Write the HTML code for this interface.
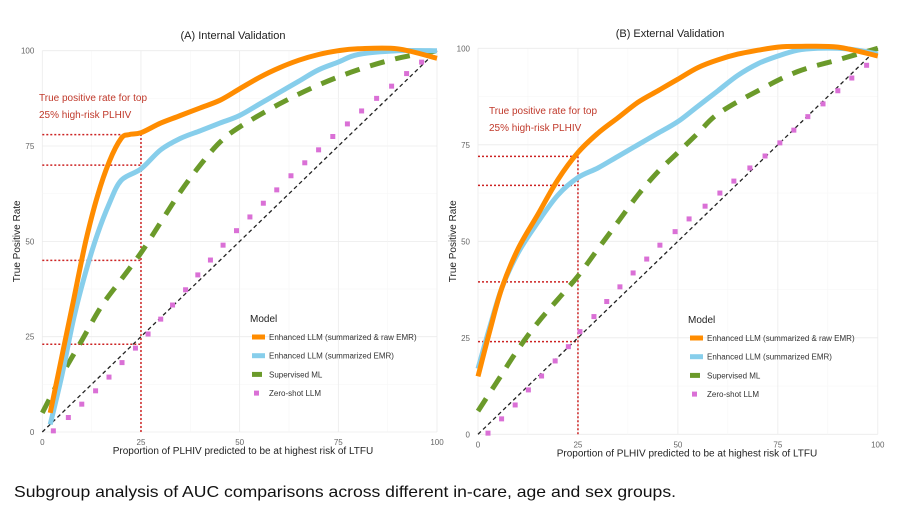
<!DOCTYPE html>
<html><head><meta charset="utf-8"><style>
html,body{margin:0;padding:0;background:#fff;}
svg{display:block;font-family:"Liberation Sans",sans-serif;}
</style></head><body>
<svg id="chart" width="900" height="506" viewBox="0 0 900 506" xmlns="http://www.w3.org/2000/svg">
<text x="14" y="497" font-size="16" fill="#111" textLength="662" lengthAdjust="spacingAndGlyphs">Subgroup analysis of AUC comparisons across different in-care, age and sex groups.</text>
</svg>
<script>
// ---- Panel A data (Internal Validation) ----
const A_orangeX=[2,5,8,11,14,17,20,22,25,30,35,40,45,50,55,60,65,70,75,80,90,100];
const A_orangeY=[5,20,35,50,62,71,77,78,78.5,81,83,85,87,90,93,95.5,97.5,99,100,100.5,100.5,98];
const A_blueX=[2,5,8,11,14,17,20,25,30,35,40,45,50,55,60,65,70,75,80,90,100];
const A_blueY=[2,15,30,42,52,60,66,69,74,77,79,81,83,86,89,92,95,97,99,100,100];
const A_greenX=[0,5,10,15,20,25,30,35,40,45,50,60,70,80,90,100];
const A_greenY=[5,15,24,33,40,47,55,63,70,76,80,86,91,95,98,100];
const A_pinkX=[2.8,6.6,10,13.5,16.9,20.2,23.6,26.8,30,33,36.3,39.4,42.6,45.8,49.2,52.6,56,59.4,63,66.5,70,73.6,77.3,80.9,84.7,88.5,92.3,96.1];
const A_pinkY=[0.3,3.8,7.3,10.8,14.4,18.2,22,25.7,29.6,33.3,37.3,41.2,45.1,49,52.8,56.4,60,63.5,67.2,70.6,74,77.5,80.8,84.2,87.5,90.7,94,97];
const A_refY=[78,70,45,23];
// ---- Panel B data (External Validation) ----
const B_orangeX=[0,3,6,10,15,20,25,30,35,40,45,50,55,60,65,70,75,80,90,100];
const B_orangeY=[15,27,38,48,57,66,73,78,82,86,89,92,95,97,98.5,99.5,100.3,100.5,100.3,98];
const B_blueX=[0,3,6,10,15,20,25,30,35,40,45,50,55,60,65,70,75,80,85,90,95,100];
const B_blueY=[17,28,38,47,55,62,66.5,69,72,75,78,81,85,89,93,96,98,99.5,100,100,99.5,98.5];
const B_greenX=[0,5,10,15,20,25,30,35,40,45,50,55,60,70,80,90,100];
const B_greenY=[6,14,22,29,35,41,48,55,62,68,73,78,83,89,94,97,100];
const B_pinkX=[2.5,5.9,9.3,12.6,15.9,19.3,22.6,25.5,29,32.2,35.5,38.8,42.2,45.5,49.3,52.8,56.8,60.5,64,68,71.8,75.5,79,82.5,86.3,90,93.5,97.2];
const B_pinkY=[0.3,4,7.6,11.5,15.1,19,22.7,26.6,30.5,34.4,38.2,41.8,45.4,49,52.5,55.8,59.1,62.5,65.6,69,72.1,75.5,78.8,82.3,85.6,89,92.3,95.6];
const B_refY=[72,64.5,39.5,24];
const tickVals=[0,25,50,75,100];
const legendLabels=["Enhanced LLM (summarized & raw EMR)","Enhanced LLM (summarized EMR)","Supervised ML","Zero-shot LLM"];

const NS="http://www.w3.org/2000/svg";
const svg=document.getElementById('chart');
function mk(tag,attrs,parent){const e=document.createElementNS(NS,tag);for(const k in attrs)e.setAttribute(k,attrs[k]);(parent||svg).appendChild(e);return e;}

function smooth(pts){
  let d='M'+pts[0][0].toFixed(1)+','+pts[0][1].toFixed(1);
  for(let i=0;i<pts.length-1;i++){
    const p0=pts[Math.max(0,i-1)],p1=pts[i],p2=pts[i+1],p3=pts[Math.min(pts.length-1,i+2)];
    const c1x=p1[0]+(p2[0]-p0[0])/6,c1y=p1[1]+(p2[1]-p0[1])/6;
    const c2x=p2[0]-(p3[0]-p1[0])/6,c2y=p2[1]-(p3[1]-p1[1])/6;
    d+=`C${c1x.toFixed(1)},${c1y.toFixed(1)} ${c2x.toFixed(1)},${c2y.toFixed(1)} ${p2[0].toFixed(1)},${p2[1].toFixed(1)}`;
  }
  return d;
}

function panel(cfg){
  const g=mk('g',{});
  
  
  const X=v=>cfg.x0+v*cfg.sx, Y=v=>cfg.y0-v*cfg.sy;
  for(let v=0;v<=100;v+=12.5){
    const maj=v%25===0;
    const gl=mk('line',{x1:X(0),x2:X(100),y1:Y(v),y2:Y(v),stroke:maj?'#ebebeb':'#f5f5f5','stroke-width':maj?0.8:0.5},g);
    
    
    const gv=mk('line',{x1:X(v),x2:X(v),y1:Y(0),y2:Y(100),stroke:maj?'#ebebeb':'#f5f5f5','stroke-width':maj?0.8:0.5},g);
    
    
  }
  tickVals.forEach(v=>{
    const t=mk('text',{x:X(0)-8,y:Y(v)+3,'font-size':8,fill:'#666','text-anchor':'end'},g);t.textContent=v;
    
    
    const t2=mk('text',{x:X(v),y:Y(0)+13,'font-size':8,fill:'#666','text-anchor':'middle'},g);t2.textContent=v;
    
    
  });
  const tt=mk('text',{x:cfg.titleX,y:cfg.titleY,'font-size':11,fill:'#222','text-anchor':'middle'},g);tt.textContent=cfg.title;
  
  
  const yt=mk('text',{x:0,y:0,'font-size':10,fill:'#222','text-anchor':'middle',transform:`translate(${cfg.yTitleX},${(Y(0)+Y(100))/2}) rotate(-90)`},g);yt.textContent='True Positive Rate';
  
  
  const xt=mk('text',{x:cfg.xTitleX,y:Y(0)+22,'font-size':10,fill:'#222','text-anchor':'middle'},g);xt.textContent='Proportion of PLHIV predicted to be at highest risk of LTFU';
  
  
  const rc='#cc2222';
  const vr=mk('line',{x1:X(25),x2:X(25),y1:Y(0),y2:Y(cfg.refY[0]),stroke:rc,'stroke-width':1.5,'stroke-dasharray':'2,2'},g);
  
  
  cfg.refY.forEach(v=>{
    const h=mk('line',{x1:X(0),x2:X(25),y1:Y(v),y2:Y(v),stroke:rc,'stroke-width':1.5,'stroke-dasharray':'2,2'},g);
    
    
  });
  const a1=mk('text',{x:cfg.annX,y:cfg.annY,'font-size':10,fill:'#c0392b'},g);a1.textContent='True positive rate for top';
  
  
  const a2=mk('text',{x:cfg.annX,y:cfg.annY+17,'font-size':10,fill:'#c0392b'},g);a2.textContent='25% high-risk PLHIV';
  
  
  const dg=mk('line',{x1:X(0),y1:Y(0),x2:X(100),y2:Y(100),stroke:'#222','stroke-width':1.3,'stroke-dasharray':'4,3'},g);
  
  
  const path=(xs,ys)=>smooth(xs.map((x,i)=>[X(x),Y(ys[i])]));
  const gr=mk('path',{d:path(cfg.gx,cfg.gy),fill:'none',stroke:'#6b9a2a','stroke-width':5,'stroke-dasharray':'15,11'},g);
  
  
  const bl=mk('path',{d:path(cfg.bx,cfg.by),fill:'none',stroke:'#87ceeb','stroke-width':5,'stroke-linejoin':'round'},g);
  
  
  const or=mk('path',{d:path(cfg.ox,cfg.oy),fill:'none',stroke:'#ff8c00','stroke-width':5,'stroke-linejoin':'round'},g);
  
  
  cfg.px.forEach((x,i)=>{
    const r=mk('rect',{x:X(x)-2.5,y:Y(cfg.py[i])-2.5,width:5,height:5,fill:'#da70d6'},g);
    
    
  });
  const lg=mk('g',{},g);
  
  
  const lt=mk('text',{x:cfg.legX-2,y:cfg.legY,'font-size':10,fill:'#222'},lg);lt.textContent='Model';
  
  
  legendLabels.forEach((lab,i)=>{
    const yy=cfg.legY+18+i*18.7;
    if(i===0||i===1){
      const k=mk('line',{x1:cfg.legX,x2:cfg.legX+13,y1:yy-3,y2:yy-3,stroke:i===0?'#ff8c00':'#87ceeb','stroke-width':5},lg);
      
      
    }else if(i===2){
      const k=mk('line',{x1:cfg.legX,x2:cfg.legX+10,y1:yy-3,y2:yy-3,stroke:'#6b9a2a','stroke-width':5},lg);
      
      
    }else{
      const k=mk('rect',{x:cfg.legX+2,y:yy-5.5,width:5,height:5,fill:'#da70d6'},lg);
      
      
    }
    const t=mk('text',{x:cfg.legX+17,y:yy,'font-size':8,fill:'#333'},lg);t.textContent=lab;
    
    
  });
}
panel({name:'panel-a-internal',x0:42.3,sx:3.947,y0:432,sy:3.813,title:'(A) Internal Validation',titleX:233,titleY:39,yTitleX:20,xTitleX:243,
  refY:A_refY,annX:39,annY:101,ox:A_orangeX,oy:A_orangeY,bx:A_blueX,by:A_blueY,gx:A_greenX,gy:A_greenY,px:A_pinkX,py:A_pinkY,legX:252,legY:322});
panel({name:'panel-b-external',x0:478,sx:3.998,y0:434.3,sy:3.86,title:'(B) External Validation',titleX:670,titleY:37,yTitleX:456,xTitleX:687,
  refY:B_refY,annX:489,annY:114,ox:B_orangeX,oy:B_orangeY,bx:B_blueX,by:B_blueY,gx:B_greenX,gy:B_greenY,px:B_pinkX,py:B_pinkY,legX:690,legY:323});
</script>
</body></html>
